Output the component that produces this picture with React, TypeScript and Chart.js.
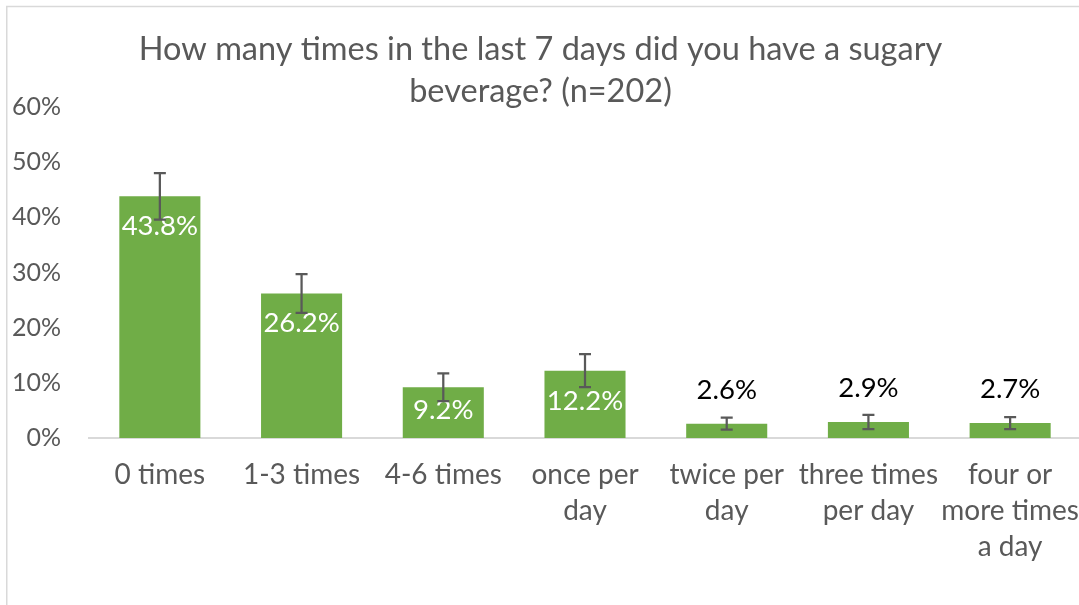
import React, { useEffect, useRef } from "react";
import { Chart, registerables } from "chart.js";

Chart.register(...registerables);

const chartTitle = ["How many times in the last 7 days did you have a sugary", "beverage? (n=202)"];
const categories: string[][] = [
  ["0 times"],
  ["1-3 times"],
  ["4-6 times"],
  ["once per", "day"],
  ["twice per", "day"],
  ["three times", "per day"],
  ["four or", "more times", "a day"],
];
const percentages = [43.8, 26.2, 9.2, 12.2, 2.6, 2.9, 2.7];
const errorMargins = [4.2, 3.5, 2.5, 3.0, 1.1, 1.3, 1.1];
const yMax = 60;
const yStep = 10;

const FONT = "Lato, 'Open Sans', sans-serif";
const GREEN = "#70AD47";
const GREY_TEXT = "#595959";
const LINE = "#D9D9D9";

const framePlugin = {
  id: "frame",
  beforeDraw(chart: any) {
    const ctx = chart.ctx;
    ctx.save();
    ctx.fillStyle = "#ffffff";
    ctx.fillRect(0, 0, chart.width, chart.height);
    ctx.strokeStyle = LINE;
    ctx.lineWidth = 1.5;
    ctx.beginPath();
    ctx.moveTo(6.75, chart.height + 5);
    ctx.lineTo(6.75, 6.5);
    ctx.lineTo(chart.width + 5, 6.5);
    ctx.stroke();
    ctx.restore();
  },
};

const labelsAndErrorsPlugin = {
  id: "labelsAndErrors",
  afterDatasetsDraw(chart: any) {
    const ctx = chart.ctx;
    const meta = chart.getDatasetMeta(0);
    const y = chart.scales.y;
    const base = y.getPixelForValue(0);
    ctx.save();
    ctx.font = `27.5px ${FONT}`;
    ctx.textAlign = "center";
    ctx.textBaseline = "middle";
    meta.data.forEach((bar: any, i: number) => {
      const v = percentages[i];
      const top = y.getPixelForValue(v);
      const txt = v.toFixed(1) + "%";
      if (base - top > 40) {
        ctx.fillStyle = "#ffffff";
        const cy = Math.min(top + 30, base - 28);
        ctx.fillText(txt, bar.x, cy);
      } else {
        ctx.fillStyle = "#000000";
        ctx.fillText(txt, bar.x, top - 34);
      }
    });
    ctx.strokeStyle = GREY_TEXT;
    ctx.lineWidth = 2.25;
    meta.data.forEach((bar: any, i: number) => {
      const v = percentages[i];
      const e = errorMargins[i];
      const yTop = y.getPixelForValue(v + e);
      const yBot = y.getPixelForValue(v - e);
      const cap = 6;
      ctx.beginPath();
      ctx.moveTo(bar.x, yTop);
      ctx.lineTo(bar.x, yBot);
      ctx.moveTo(bar.x - cap, yTop);
      ctx.lineTo(bar.x + cap, yTop);
      ctx.moveTo(bar.x - cap, yBot);
      ctx.lineTo(bar.x + cap, yBot);
      ctx.stroke();
    });
    ctx.restore();
  },
};

export default function App() {
  const ref = useRef<HTMLCanvasElement | null>(null);
  useEffect(() => {
    if (!ref.current) return;
    const chart = new Chart(ref.current, {
      type: "bar",
      data: {
        labels: categories,
        datasets: [
          {
            data: percentages,
            backgroundColor: GREEN,
            borderWidth: 0,
            categoryPercentage: 1,
            barPercentage: 0.572,
          },
        ],
      },
      options: {
        responsive: false,
        animation: false,
        devicePixelRatio: 1,
        layout: { padding: { left: 0, right: 11, top: 0, bottom: 0 } },
        plugins: {
          legend: { display: false },
          tooltip: { enabled: false },
          title: {
            display: true,
            text: chartTitle,
            color: GREY_TEXT,
            font: { family: FONT, size: 32.5, weight: "normal", lineHeight: "42px" },
            padding: { top: 29, bottom: -6 },
          },
        },
        scales: {
          x: {
            grid: { display: false, drawTicks: false },
            border: { display: true, color: LINE, width: 2 },
            ticks: {
              color: GREY_TEXT,
              font: { family: FONT, size: 28, lineHeight: "36px" },
              padding: 19,
              maxRotation: 0,
              autoSkip: false,
            },
            afterFit: (s: any) => {
              s.height = 167;
              s.paddingLeft = 0;
              s.paddingRight = 0;
            },
          },
          y: {
            min: 0,
            max: yMax,
            grid: { display: false, drawTicks: false },
            border: { display: false },
            ticks: {
              stepSize: yStep,
              color: GREY_TEXT,
              font: { family: FONT, size: 25 },
              padding: 28,
              callback: (v: any) => v + "%",
            },
            afterFit: (s: any) => {
              s.width = 89;
              s.paddingTop = 0;
              s.paddingBottom = 0;
            },
          },
        },
      },
      plugins: [framePlugin, labelsAndErrorsPlugin],
    });
    return () => chart.destroy();
  }, []);
  return (
    <div
      style={{
        position: "fixed",
        left: 0,
        top: 0,
        width: 1079,
        height: 605,
        overflow: "hidden",
        background: "#fff",
      }}
    >
      <canvas ref={ref} width={1092} height={605} style={{ width: 1092, height: 605, display: "block" }} />
    </div>
  );
}
